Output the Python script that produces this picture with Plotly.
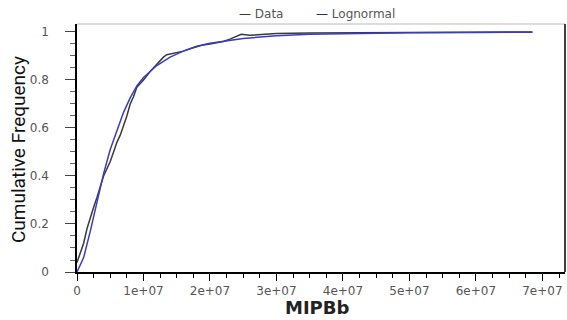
import plotly.graph_objects as go

data_x_m = [0, 0.5, 1, 1.5, 2, 2.5, 3, 3.5, 4, 4.5, 5, 5.5, 6, 6.5, 7, 7.5, 8, 8.5, 9,
            9.5, 10, 11, 12, 13, 13.5, 14, 15, 16, 17, 18, 19, 20, 21, 22, 23, 24,
            24.7, 26, 28, 30, 35, 40, 50, 60, 68.5]
data_y = [0.04, 0.08, 0.12, 0.18, 0.23, 0.27, 0.31, 0.36, 0.40, 0.43, 0.46, 0.50, 0.54,
          0.57, 0.61, 0.65, 0.70, 0.73, 0.77, 0.785, 0.80, 0.835, 0.865, 0.895, 0.905,
          0.908, 0.912, 0.92, 0.93, 0.938, 0.946, 0.95, 0.955, 0.96, 0.97, 0.98,
          0.99, 0.986, 0.99, 0.993, 0.995, 0.996, 0.998, 0.999, 1.0]

# Fitted lognormal CDF (x in units of 1e6)
logn_x_m = [0, 1, 2, 3, 4, 5, 6, 7, 8, 9, 10, 12, 14, 16, 18, 20, 25, 30, 35, 40, 50, 60, 68.5]
logn_y = [0, 0.06, 0.17, 0.29, 0.41, 0.51, 0.59, 0.665, 0.725, 0.775, 0.81, 0.86, 0.895,
          0.92, 0.94, 0.953, 0.973, 0.984, 0.99, 0.993, 0.997, 0.998, 0.999]

x_tickvals = [0, 1e7, 2e7, 3e7, 4e7, 5e7, 6e7, 7e7]
x_ticktext = ["0", "1e+07", "2e+07", "3e+07", "4e+07", "5e+07", "6e+07", "7e+07"]
y_tickvals = [0, 0.2, 0.4, 0.6, 0.8, 1]
y_ticktext = ["0", "0.2", "0.4", "0.6", "0.8", "1"]

data_x = [v * 1e6 for v in data_x_m]
logn_x = [v * 1e6 for v in logn_x_m]

DATA_COLOR = "#3a3a3a"
LOGN_COLOR = "#3b3bc4"
TICK_FONT = dict(family="DejaVu Sans, Verdana, sans-serif", size=12, color="#555555")

fig = go.Figure()
fig.add_trace(go.Scatter(x=data_x, y=data_y, mode="lines", name="Data",
                         line=dict(color=DATA_COLOR, width=1.5)))
fig.add_trace(go.Scatter(x=logn_x, y=logn_y, mode="lines", name="Lognormal",
                         line=dict(color=LOGN_COLOR, width=1.5)))

fig.update_layout(
    width=567, height=320,
    margin=dict(l=77, r=2, t=24, b=48, autoexpand=False),
    paper_bgcolor="white", plot_bgcolor="white",
    showlegend=False,
    xaxis=dict(range=[0, 7.34e7], showgrid=False, zeroline=False,
               showline=True, linecolor="black", linewidth=1.5,
               ticks="outside", ticklen=7, tickcolor="black",
               tickvals=x_tickvals, ticktext=x_ticktext, tickfont=TICK_FONT,
               minor=dict(dtick=2.5e6, ticks="outside", ticklen=4, tickcolor="black")),
    yaxis=dict(range=[0, 1.033], showgrid=False, zeroline=False,
               showline=True, linecolor="black", linewidth=1.5,
               ticks="outside", ticklen=10, tickcolor="#444444",
               tickvals=y_tickvals, ticktext=y_ticktext, tickfont=TICK_FONT,
               ticklabelstandoff=14,
               minor=dict(dtick=0.05, ticks="outside", ticklen=5, tickcolor="#666666")),
    shapes=[
        dict(type="line", xref="paper", yref="paper", x0=0, x1=1, y0=1, y1=1,
             line=dict(color="#bbbbbb", width=1)),
        dict(type="line", xref="paper", yref="paper", x0=1, x1=1, y0=0, y1=1,
             line=dict(color="black", width=1.5)),
    ],
    annotations=[
        dict(text="MIPBb", xref="paper", yref="paper", x=(317 - 77) / 488, y=(272 - 307) / 248,
             xanchor="center", yanchor="middle", showarrow=False,
             font=dict(family="DejaVu Sans, Verdana, sans-serif", size=18, color="#222222",
                       weight="bold")),
        dict(text="Cumulative Frequency", xref="paper", yref="paper",
             x=(18 - 77) / 488, y=(272 - 150) / 248, textangle=-90,
             xanchor="center", yanchor="middle", showarrow=False,
             font=dict(family="Liberation Sans Narrow, Roboto, sans-serif", size=19,
                       color="#111111")),
        dict(text="<span style='color:%s'>—</span> Data" % DATA_COLOR,
             xref="paper", yref="paper", x=(261 - 77) / 488, y=(272 - 14) / 248,
             xanchor="center", yanchor="middle", showarrow=False,
             font=dict(family="DejaVu Sans, Verdana, sans-serif", size=12, color="#555555")),
        dict(text="<span style='color:%s'>—</span> Lognormal" % "#2a2a6a",
             xref="paper", yref="paper", x=(355 - 77) / 488, y=(272 - 14) / 248,
             xanchor="center", yanchor="middle", showarrow=False,
             font=dict(family="DejaVu Sans, Verdana, sans-serif", size=12, color="#555555")),
    ],
)

fig.write_html("out.html",
               config={"displayModeBar": False},
               post_script="document.body.style.margin='0';document.body.style.overflow='hidden';")
